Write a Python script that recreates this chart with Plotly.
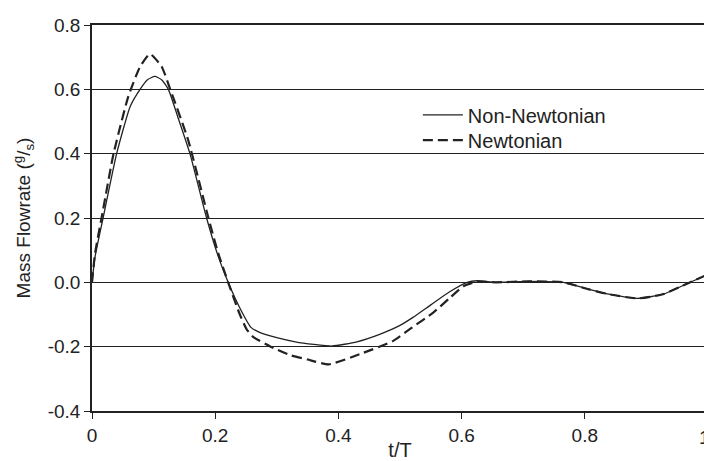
import plotly.graph_objects as go

# Non-Newtonian (solid)
t_nonnewt = [0, 0.005, 0.018, 0.040, 0.062, 0.078, 0.090, 0.102, 0.113, 0.124, 0.140, 0.159, 0.186, 0.205,
             0.221, 0.240, 0.258, 0.275, 0.30, 0.33, 0.36, 0.39, 0.43, 0.468, 0.50, 0.521, 0.55, 0.58,
             0.609, 0.625, 0.656, 0.709, 0.765, 0.807, 0.839, 0.886, 0.927, 0.964, 1.0]
q_nonnewt = [0, 0.08, 0.20, 0.40, 0.547, 0.60, 0.630, 0.640, 0.630, 0.60, 0.51, 0.40, 0.20, 0.08,
             0.0, -0.08, -0.14, -0.158, -0.172, -0.185, -0.193, -0.198, -0.185, -0.161, -0.134, -0.109, -0.07, -0.03,
             0.0, 0.005, 0.0, 0.003, 0.0, -0.022, -0.037, -0.05, -0.037, -0.006, 0.025]

# Newtonian (dashed)
t_newt = [0, 0.005, 0.018, 0.035, 0.059, 0.078, 0.094, 0.113, 0.127, 0.156, 0.189, 0.205, 0.221, 0.240,
          0.251, 0.262, 0.29, 0.321, 0.35, 0.384, 0.435, 0.489, 0.52, 0.554, 0.58, 0.603, 0.625, 0.656,
          0.709, 0.765, 0.807, 0.839, 0.886, 0.927, 0.964, 1.0]
q_newt = [0, 0.09, 0.226, 0.40, 0.578, 0.67, 0.71, 0.671, 0.60, 0.443, 0.20, 0.09, 0.0, -0.1,
          -0.146, -0.17, -0.2, -0.226, -0.24, -0.255, -0.223, -0.182, -0.14, -0.094, -0.05, -0.012, 0.002, 0.0,
          0.003, 0.0, -0.022, -0.037, -0.05, -0.037, -0.006, 0.025]

x_ticks = [0, 0.2, 0.4, 0.6, 0.8, 1]
x_ticklabels = ["0", "0.2", "0.4", "0.6", "0.8", "1"]
y_ticks = [-0.4, -0.2, 0.0, 0.2, 0.4, 0.6, 0.8]
y_ticklabels = ["-0.4", "-0.2", "0.0", "0.2", "0.4", "0.6", "0.8"]

FONT = "Liberation Sans, Arial, sans-serif"
INK = "#222222"

fig = go.Figure()
fig.add_trace(go.Scatter(x=t_nonnewt, y=q_nonnewt, mode="lines", name="Non-Newtonian", legend="legend",
                         line=dict(color="#222222", width=1.3, shape="spline", smoothing=0.5)))
fig.add_trace(go.Scatter(x=t_newt, y=q_newt, mode="lines", name="Newtonian", legend="legend2",
                         line=dict(color="#222222", width=2.2, dash="10px,5px", shape="spline", smoothing=0.5)))

leg_common = dict(xanchor="left", yanchor="middle", bgcolor="rgba(0,0,0,0)",
                  font=dict(size=20, color=INK), itemwidth=40)
fig.update_layout(
    width=704, height=453,
    margin=dict(l=84, r=4, t=17, b=50, autoexpand=False),
    paper_bgcolor="white", plot_bgcolor="white",
    font=dict(family=FONT, color=INK, size=19),
    legend=dict(x=0.529, y=0.767, **leg_common),
    legend2=dict(x=0.529, y=0.702, **leg_common),
    showlegend=True,
)
# last x tick label sits on the very edge of the figure; draw it as an annotation so it is not dropped
fig.add_annotation(x=x_ticks[-1], xref="x", y=-0.068, yref="paper", text=x_ticklabels[-1],
                   showarrow=False, xanchor="right", yanchor="middle", xshift=4,
                   font=dict(size=19, color=INK, family=FONT))
fig.update_xaxes(
    range=[0, 1], tickvals=x_ticks, ticktext=x_ticklabels[:-1] + [""],
    showgrid=False, zeroline=False, automargin=False,
    showline=True, linecolor="#222222", linewidth=1.5, mirror=True,
    ticks="outside", ticklen=6, tickcolor="#222222",
    tickfont=dict(size=19),
    title=dict(text="t/T", font=dict(size=20), standoff=2),
)
fig.update_yaxes(
    range=[-0.4, 0.8], tickvals=y_ticks, ticktext=y_ticklabels,
    showgrid=True, gridcolor="#222222", gridwidth=1.3, zeroline=False, automargin=False,
    showline=True, linecolor="#222222", linewidth=1.5, mirror=True,
    ticks="outside", ticklen=6, tickcolor="#222222",
    tickfont=dict(size=19),
    title=dict(text="Mass Flowrate (<sup>g</sup>/<sub>s</sub>)", font=dict(size=19), standoff=12),
)

fig.write_html("out.html")
